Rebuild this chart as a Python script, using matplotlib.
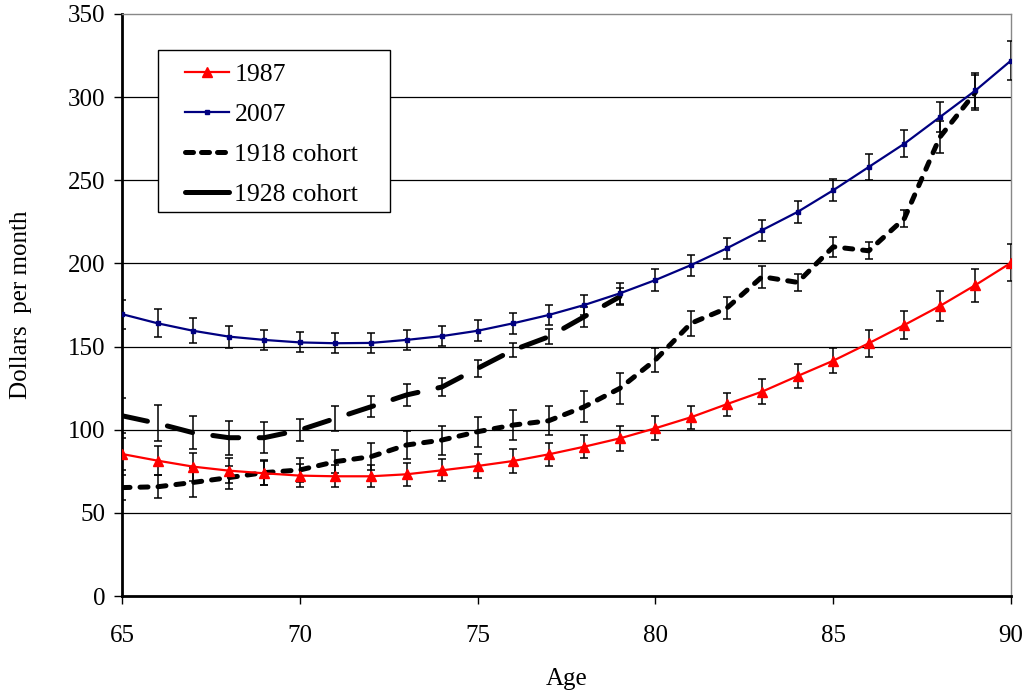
import matplotlib
matplotlib.use("Agg")
import matplotlib.pyplot as plt
from matplotlib.patches import Rectangle
from matplotlib.lines import Line2D

plt.rcParams['font.family'] = ['Liberation Serif', 'DejaVu Serif']

ages = [65, 66, 67, 68, 69, 70, 71, 72, 73, 74, 75, 76, 77, 78, 79, 80,
        81, 82, 83, 84, 85, 86, 87, 88, 89, 90]
y1987 = [85.4, 81.4, 77.8, 75.4, 73.8, 72.4, 72.0, 72.0, 73.2, 75.6, 78.2, 81.2,
         85.2, 89.8, 94.8, 100.9, 107.5, 115.3, 122.9, 132.3, 141.5, 152.0,
         163.0, 174.4, 187.0, 200.4]
e1987 = [9.8, 8.6, 8.4, 7.5, 7.2, 7.0, 6.7, 6.7, 7.0, 6.5, 7.2, 7.0, 6.8, 7.0,
         7.4, 7.2, 7.0, 7.0, 7.4, 7.4, 7.5, 8.2, 8.6, 9.2, 9.9, 11.0]
y2007 = [169.5, 164.0, 159.5, 156.0, 154.0, 152.5, 152.0, 152.2, 154.0, 156.3,
         159.5, 164.0, 169.0, 175.0, 182.0, 190.0, 199.0, 209.0, 220.0, 231.0,
         244.0, 258.0, 272.0, 288.0, 304.0, 322.0]
e2007 = [8.8, 8.3, 7.4, 6.6, 6.2, 6.0, 6.0, 6.0, 5.9, 5.8, 6.2, 6.3, 5.9, 6.3,
         6.2, 6.7, 6.3, 6.3, 6.3, 6.8, 6.6, 7.8, 8.2, 9.2, 10.7, 11.8]
ages_1918 = [65, 66, 67, 68, 69, 70, 71, 72, 73, 74, 75, 76, 77, 78, 79, 80,
             81, 82, 83, 84, 85, 86, 87, 88, 89]
y1918 = [65.2, 65.7, 68.3, 71.2, 74.2, 75.8, 80.8, 83.8, 90.8, 93.8, 98.8, 102.8,
         105.4, 113.8, 124.9, 142.0, 164.0, 173.0, 192.0, 188.6, 210.0, 207.6,
         227.0, 276.0, 303.0]
e1918 = [7.5, 7.0, 8.6, 7.0, 7.4, 7.0, 7.0, 8.0, 8.5, 8.7, 9.0, 9.2, 8.6, 9.3,
         9.2, 7.0, 7.5, 6.7, 6.6, 5.3, 6.0, 5.0, 5.2, 9.4, 10.5]
ages_1928 = [65, 66, 67, 68, 69, 70, 71, 72, 73, 74, 75, 76, 77, 78, 79]
y1928 = [108.4, 103.8, 98.2, 95.2, 95.2, 99.8, 106.8, 113.8, 120.9, 125.7, 136.9,
         147.9, 155.9, 168.0, 180.0]
e1928 = [10.5, 10.8, 9.8, 10.2, 9.4, 6.7, 7.3, 6.3, 6.5, 5.2, 5.3, 4.0, 4.5, 6.0, 5.0]

labels = ['1987', '2007', '1918 cohort', '1928 cohort']
xticks = [65, 70, 75, 80, 85, 90]
yticks = [0, 50, 100, 150, 200, 250, 300, 350]

fig = plt.figure(figsize=(10.28, 6.92), dpi=100)
ax = fig.add_axes([0.1187, 0.1387, 0.8648, 0.8411])

for yv in yticks[1:-1]:
    ax.axhline(yv, color='black', lw=0.9, zorder=1)

ebkw = dict(fmt='none', ecolor='black', elinewidth=1.1, capsize=3.2, capthick=1.1, zorder=4)
ax.errorbar(ages, y1987, yerr=e1987, **ebkw)
ax.errorbar(ages, y2007, yerr=e2007, **ebkw)
ax.errorbar(ages_1918, y1918, yerr=e1918, **ebkw)
ax.errorbar(ages_1928, y1928, yerr=e1928, **ebkw)

l87, = ax.plot(ages, y1987, color='#ff0000', lw=1.6, marker='^', markersize=7.5,
               zorder=5)
l07, = ax.plot(ages, y2007, color='#000080', lw=1.6, marker='s', markersize=3.5,
               zorder=5)
l18, = ax.plot(ages_1918, y1918, color='black', lw=3.6,
               dash_capstyle='round', zorder=3)
l18.set_dashes((1.6, 2.0))
l28, = ax.plot(ages_1928, y1928, color='black', lw=3.6,
               dash_capstyle='round', zorder=3)
l28.set_dashes((5.2, 4.1))

ax.set_xlim(65, 90)
ax.set_ylim(0, 350)
ax.set_xticks(xticks)
ax.set_yticks(yticks)
ax.tick_params(axis='both', labelsize=18, direction='out', length=6, width=1)
ax.tick_params(axis='x', pad=15)
ax.tick_params(axis='y', pad=6)

ax.spines['left'].set_linewidth(2.0)
ax.spines['bottom'].set_linewidth(2.0)
for s in ['top', 'right']:
    ax.spines[s].set_color('#888888')
    ax.spines[s].set_linewidth(1.0)

ax.set_xlabel('Age', fontsize=18)
ax.set_ylabel('Dollars  per month', fontsize=18)
ax.xaxis.set_label_coords(0.5, -0.123)
ax.yaxis.set_label_coords(-0.101, 0.5)

# legend frame
rect = Rectangle((0.0405, 0.660), 0.261, 0.278, transform=ax.transAxes,
                 facecolor='white', edgecolor='black', lw=1.0, zorder=6)
ax.add_patch(rect)
h18 = Line2D([], [], color='black', lw=3.6, dash_capstyle='round')
h18.set_dashes((1.6, 1.6))
h28 = Line2D([], [], color='black', lw=3.6, solid_capstyle='round')
leg = ax.legend([l87, l07, h18, h28], labels, loc='upper left',
                bbox_to_anchor=(0.071, 0.915), frameon=False,
                fontsize=18.5, handlelength=1.7, handletextpad=0.22,
                labelspacing=0.65, borderaxespad=0, borderpad=0)
leg.set_zorder(7)

fig.savefig('out.png', dpi=100)
